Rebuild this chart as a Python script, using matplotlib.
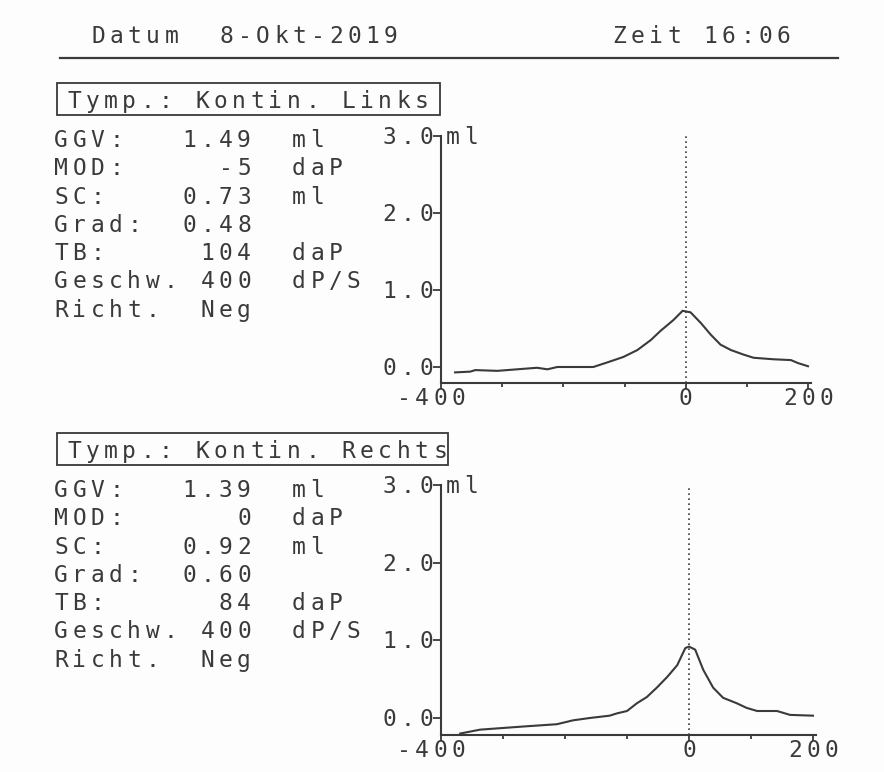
import matplotlib.pyplot as plt
from matplotlib.patches import Rectangle
from matplotlib.transforms import offset_copy

# printout header
datum = 'Datum  8-Okt-2019'
zeit = 'Zeit 16:06'

# measured parameters per ear
params = ['GGV:', 'MOD:', 'SC:', 'Grad:', 'TB:', 'Geschw.', 'Richt.']
units = ['ml', 'daP', 'ml', '', 'daP', 'dP/S', '']
values_links = ['1.49', '-5', '0.73', '0.48', '104', '400', 'Neg']
values_rechts = ['1.39', '0', '0.92', '0.60', '84', '400', 'Neg']

# tympanogram curves: pressure (daPa) vs. compliance (ml)
pressure_links = [-377, -352, -344, -308, -243, -226, -210, -151, -128, -102, -79, -57, -41,
                  -20, -5, 8, 25, 41, 57, 74, 95, 111, 144, 172, 184, 200]
volume_links = [-0.07, -0.06, -0.04, -0.05, -0.01, -0.03, 0.0, 0.0, 0.06, 0.13, 0.22, 0.35, 0.47,
                0.61, 0.73, 0.71, 0.57, 0.42, 0.29, 0.22, 0.16, 0.12, 0.10, 0.09, 0.05, 0.01]
pressure_rechts = [-369, -337, -268, -213, -187, -160, -128, -116, -100, -84, -68, -52, -35,
                   -19, -6, 0, 10, 23, 39, 55, 77, 93, 110, 142, 163, 200]
volume_rechts = [-0.20, -0.15, -0.11, -0.08, -0.03, 0.0, 0.03, 0.06, 0.09, 0.19, 0.27, 0.39, 0.53,
                 0.68, 0.90, 0.92, 0.88, 0.62, 0.39, 0.26, 0.19, 0.13, 0.09, 0.09, 0.04, 0.03]

y_ticks = [0, 1, 2, 3]
y_ticklabels = ['0.0', '1.0', '2.0', '3.0']
x_ticks = [-400, 0, 200]
x_ticklabels = ['-400', '0', '200']
x_minor = [-300, -200, -100, 100]

W, H = 884, 772
INK = '#3a3a3a'
PITCH = 18.3
FONT = dict(family='DejaVu Sans Mono', size=16.5, color=INK)

fig = plt.figure(figsize=(W / 100, H / 100), dpi=100, facecolor='#fdfdfd')
page = fig.add_axes([0, 0, 1, 1])
page.set_xlim(0, W)
page.set_ylim(H, 0)
page.axis('off')


def mono(x, y, s, transform, ha='left', dx=0):
    # printer font: every glyph on a fixed pitch
    n = len(s)
    if ha == 'center':
        start = -(n - 1) * PITCH / 2
    elif ha == 'right':
        start = -(n - 1) * PITCH
    else:
        start = 0
    for i, ch in enumerate(s):
        if ch == ' ':
            continue
        tr = offset_copy(transform, fig=fig, x=dx + start + i * PITCH, y=-8, units='dots')
        fig.text(x, y, ch, transform=tr, ha='center', va='baseline', **FONT)


# header
mono(98, 35, datum, page.transData)
mono(619, 35, zeit, page.transData)
page.plot([60, 838], [58, 58], color=INK, lw=1.6)


def panel(top, box_right, title, values, pressure, volume, x0, x200, y0, y3, y_axis):
    # title box
    page.add_patch(Rectangle((57, top), box_right - 57, 32, fill=False, ec=INK, lw=1.3))
    mono(74, top + 17, title, page.transData)

    # parameter table
    row0 = top + 56
    for k in range(len(params)):
        y = row0 + k * 28.3
        mono(61, y, params[k], page.transData)
        mono(61 + 10 * PITCH, y, values[k], page.transData, ha='right')
        if units[k]:
            mono(61 + 13 * PITCH, y, units[k], page.transData)

    # tympanogram axes
    xs = (x200 - x0) / 600
    ys = (y0 - y3) / 3
    xmax = 205
    ymin = -(y_axis - y0) / ys
    width = (xmax + 400) * xs
    height = y_axis - y3
    ax = fig.add_axes([x0 / W, 1 - y_axis / H, width / W, height / H])
    ax.set_xlim(-400, xmax)
    ax.set_ylim(ymin, 3.0)
    ax.patch.set_alpha(0)
    for s in ['top', 'right']:
        ax.spines[s].set_visible(False)
    for s in ['left', 'bottom']:
        ax.spines[s].set_color(INK)
        ax.spines[s].set_linewidth(1.5)
    ax.set_yticks(y_ticks)
    ax.set_yticklabels([])
    ax.set_xticks(x_ticks)
    ax.set_xticklabels([])
    ax.set_xticks(x_minor, minor=True)
    ax.tick_params(axis='y', direction='out', length=6, width=1.3, color=INK)
    ax.tick_params(axis='x', which='major', direction='out', length=4, width=1.3, color=INK)
    ax.tick_params(axis='x', which='minor', direction='out', length=3, width=1.3, color=INK)

    for v, lab in zip(y_ticks, y_ticklabels):
        mono(-400, v, lab, ax.transData, ha='right', dx=-15)
    mono(-400, 3.0, 'ml', ax.transData, dx=12)
    for v, lab in zip(x_ticks, x_ticklabels):
        tr = offset_copy(ax.get_xaxis_transform(), fig=fig, y=-14, units='dots')
        mono(v, 0, lab, tr, ha='center', dx=-10 if v == -400 else 0)

    ax.plot([0, 0], [ymin, 3.0], color=INK, lw=1.2, ls=(0, (1, 2)))
    ax.plot(pressure, volume, color=INK, lw=1.5)


panel(83, 440, 'Tymp.: Kontin. Links', values_links, pressure_links, volume_links,
      x0=441, x200=808, y0=367, y3=136, y_axis=383)
panel(433, 448, 'Tymp.: Kontin. Rechts', values_rechts, pressure_rechts, volume_rechts,
      x0=441, x200=813, y0=718, y3=485, y_axis=735)

fig.savefig('out.png', dpi=100, facecolor=fig.get_facecolor())
